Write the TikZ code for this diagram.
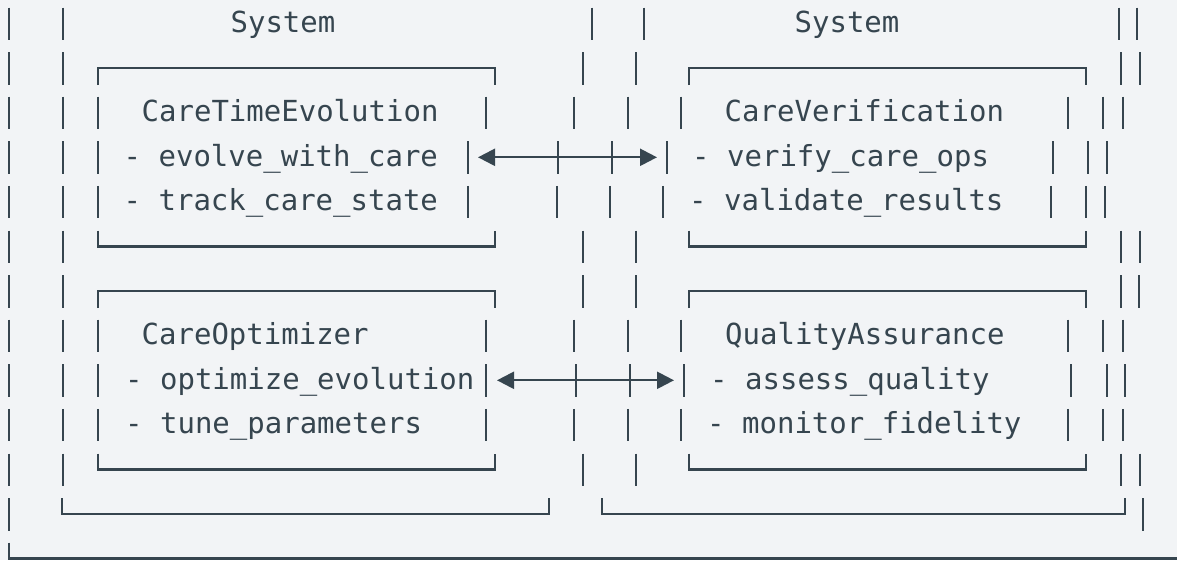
\documentclass[tikz,border=0pt]{standalone}
\usepackage{fontspec}
\setmonofont{DejaVu Sans Mono}
\usepackage{tikz}
\usetikzlibrary{arrows.meta}
\definecolor{ink}{HTML}{36454F}
\definecolor{paper}{HTML}{F2F4F6}

\begin{document}
\begin{tikzpicture}[x=1pt,y=-1pt,
  every node/.style={font=\ttfamily\fontsize{29}{29}\selectfont,text=ink,inner sep=0pt},
  bar/.style={draw=ink,line width=2.7pt},
  rule/.style={draw=ink,line width=2.4pt},
  link/.style={draw=ink,line width=2.3pt,{Triangle[length=17pt,width=17pt]}-{Triangle[length=17pt,width=17pt]}}]
 \fill[paper] (0,0) rectangle (1177,560);
 \useasboundingbox (0,0) rectangle (1177,560);
 \foreach \r/\xs in {0/{9,63,592,644,1119,1137},
   1/{9,63,583,636,1121,1140}, 2/{9,63,98,486,574,628,681,1068,1103,1123},
   3/{9,63,98,468,558,612,667,1053,1088,1107}, 4/{9,63,98,468,557,610,663,1051,1086,1105},
   5/{9,63,583,636,1121,1140}, 6/{9,63,583,636,1121,1139},
   7/{9,63,98,486,574,628,681,1068,1103,1123}, 8/{9,63,98,486,576,630,684,1071,1107,1125},
   9/{9,63,98,486,574,628,681,1068,1103,1123}, 10/{9,63,583,636,1121,1140}, 11/{9,1143}}{
   \pgfmathsetmacro\yy{23.5+44.6*\r}
   \foreach \x in \xs {\draw[bar] (\x,\yy-16) -- (\x,\yy+16.5);}
 }
 \foreach \a/\b/\r in {98/495/1,689/1086/1,98/495/6,689/1086/6}{
   \pgfmathsetmacro\yy{23.5+44.6*\r}
   \draw[rule] (\a,\yy+17) |- (\b,\yy) -- (\b,\yy+17);}
 \foreach \a/\b/\r in {98/495/5,689/1086/5,98/495/10,689/1086/10,62/549/11,602/1125/11}{
   \pgfmathsetmacro\yy{23.5+44.6*\r}
   \draw[rule] (\a,\yy-16) |- (\b,\yy) -- (\b,\yy-16);}
 \draw[rule] (9,542.7) |- (1177,558.5);

 \node[anchor=base] (sysL) at (283,32.5) {System};
 \node[anchor=base] (sysR) at (847,32.5) {System};
 \node[anchor=base west] (cte) at (141.5,121.7) {CareTimeEvolution};
 \node[anchor=base west] (cte-a) at (123.5,166.3) {- evolve\_with\_care};
 \node[anchor=base west] (cte-b) at (123.5,210.9) {- track\_care\_state};
 \node[anchor=base west] (opt) at (141.5,344.7) {CareOptimizer};
 \node[anchor=base west] (opt-a) at (125,389.3) {- optimize\_evolution};
 \node[anchor=base west] (opt-b) at (125,433.9) {- tune\_parameters};
 \node[anchor=base west] (ver) at (724.5,121.7) {CareVerification};
 \node[anchor=base west] (ver-a) at (692,166.3) {- verify\_care\_ops};
 \node[anchor=base west] (ver-b) at (689,210.9) {- validate\_results};
 \node[anchor=base west] (qa) at (725,344.7) {QualityAssurance};
 \node[anchor=base west] (qa-a) at (710,389.3) {- assess\_quality};
 \node[anchor=base west] (qa-b) at (707,433.9) {- monitor\_fidelity};

 \coordinate (cte-end) at (478,157.3);
 \coordinate (ver-end) at (657,157.3);
 \coordinate (opt-end) at (497,380.3);
 \coordinate (qa-end) at (674,380.3);
 \draw[link] (cte-end) -- (ver-end);
 \draw[link] (opt-end) -- (qa-end);
\end{tikzpicture}
\end{document}
